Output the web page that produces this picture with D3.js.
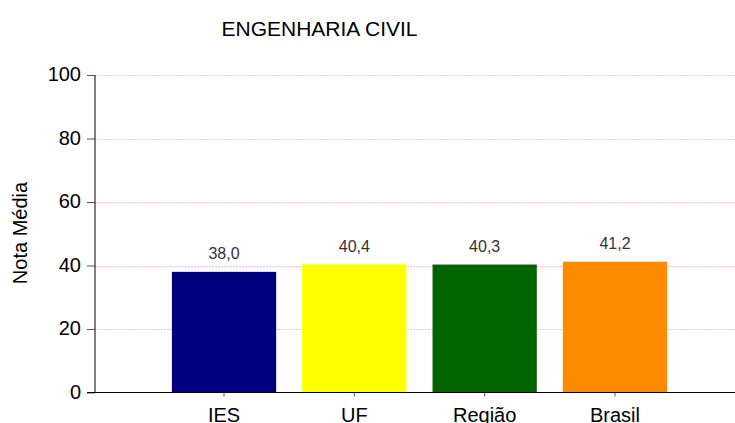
<!DOCTYPE html>
<html>
<head>
<meta charset="utf-8">
<script src="https://cdn.jsdelivr.net/npm/d3@7"></script>
<style>
  body { margin: 0; background: #fff; }
  text { font-family: "Liberation Sans", Arial, sans-serif; }
</style>
</head>
<body>
<div id="chart"></div>
<script>
// chart data
var title = "ENGENHARIA CIVIL";
var categories = ["IES", "UF", "Região", "Brasil"];
var values = [38.0, 40.4, 40.3, 41.2];
var barColors = ["#000080", "#ffff00", "#006400", "#ff8c00"];
var yTicks = [0, 20, 40, 60, 80, 100];
var yLabel = "Nota Média";

const width = 735, height = 423;
const plotLeft = 95, plotRight = 744, plotTop = 75, plotBottom = 392.5;

const svg = d3.select("#chart")
    .append("svg")
    .attr("width", width)
    .attr("height", height);

const xScale = d3.scaleBand()
    .range([plotLeft, plotRight])
    .domain(categories)
    .paddingInner(0.2)
    .paddingOuter(0.59);

const yScale = d3.scaleLinear()
    .range([plotBottom, plotTop])
    .domain([0, 100]);

// grid
svg.append('g')
    .selectAll('line')
    .data(yTicks.filter(d => d > 0))
    .enter()
    .append('line')
    .attr('x1', plotLeft)
    .attr('x2', width)
    .attr('y1', d => Math.round(yScale(d)) + 0.5)
    .attr('y2', d => Math.round(yScale(d)) + 0.5)
    .attr('stroke', '#ffc2d0')
    .attr('stroke-width', 1)
    .attr('stroke-dasharray', '2,1');

// bars
svg.append('g')
    .selectAll('rect')
    .data(values)
    .enter()
    .append('rect')
    .attr('x', (d, i) => xScale(categories[i]))
    .attr('y', d => yScale(d))
    .attr('width', xScale.bandwidth())
    .attr('height', d => plotBottom - yScale(d))
    .attr('fill', (d, i) => barColors[i]);

// value labels
svg.append('g')
    .selectAll('text')
    .data(values)
    .enter()
    .append('text')
    .attr('x', (d, i) => xScale(categories[i]) + xScale.bandwidth() / 2)
    .attr('y', d => yScale(d) - 12.5)
    .attr('text-anchor', 'middle')
    .style('font-size', '16px')
    .attr('fill', '#333')
    .text(d => d.toFixed(1).replace('.', ','));

// y axis
const yAxis = svg.append('g')
    .attr('transform', `translate(${plotLeft}, 0)`)
    .call(d3.axisLeft(yScale).tickValues(yTicks).tickSize(8).tickPadding(6));
yAxis.select('.domain').attr('stroke', '#000').attr('d', `M0,${plotTop}V${plotBottom}`);
yAxis.selectAll('.tick line').attr('stroke', '#555');
yAxis.selectAll('.tick text')
    .style('font-size', '20px')
    .attr('fill', '#000')
    .attr('dy', '0.28em');

// x axis
const xAxis = svg.append('g')
    .attr('transform', `translate(0, ${plotBottom})`)
    .call(d3.axisBottom(xScale).tickSize(4).tickPadding(11));
xAxis.select('.domain').attr('stroke', '#000').attr('d', `M${plotLeft - 8},0H${width}`);
xAxis.selectAll('.tick line').attr('stroke', '#555');
xAxis.selectAll('.tick text')
    .style('font-size', '20px')
    .attr('fill', '#000');

// title
svg.append('text')
    .text(title)
    .attr('x', 319.5)
    .attr('y', 36)
    .attr('text-anchor', 'middle')
    .style('font-size', '21px')
    .attr('fill', '#000');

// y label
svg.append('text')
    .text(yLabel)
    .attr('transform', 'translate(27, 233) rotate(-90)')
    .attr('text-anchor', 'middle')
    .style('font-size', '20px')
    .attr('fill', '#000');
</script>
</body>
</html>
